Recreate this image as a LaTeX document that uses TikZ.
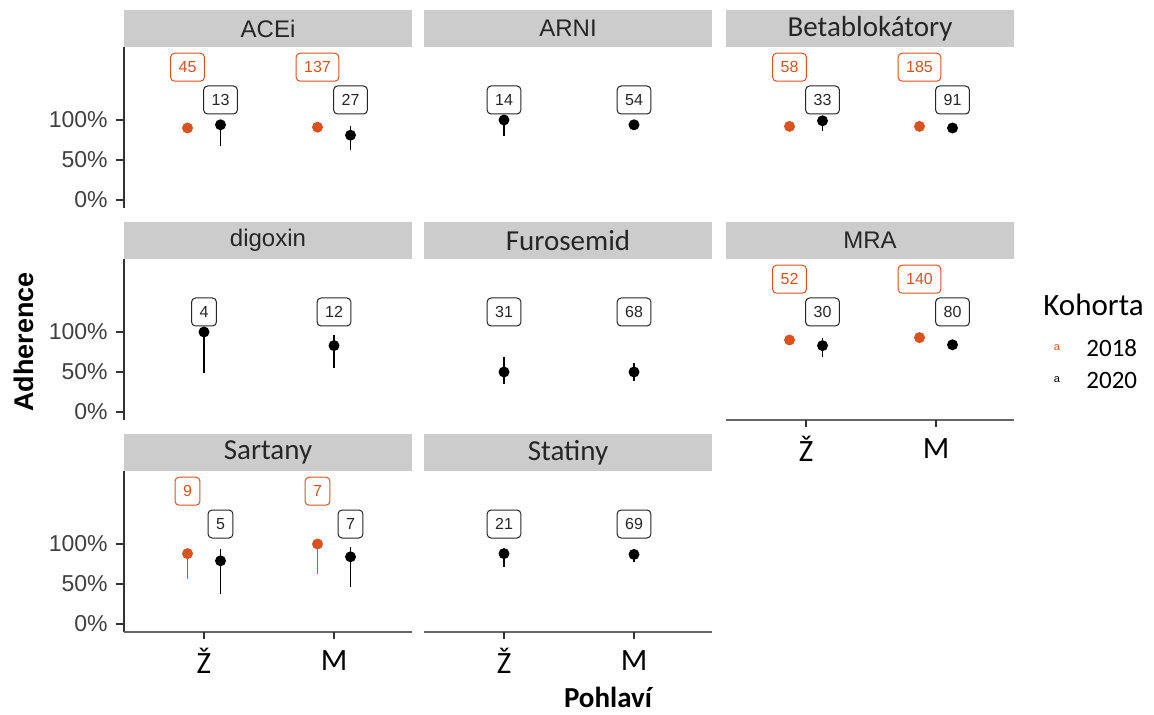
\documentclass[tikz,border=0pt]{standalone}
\usepackage{fontspec}
\setmainfont{Liberation Sans}
\newfontfamily\calibri{Carlito}
\usetikzlibrary{positioning}
\definecolor{c2018}{HTML}{D9531E}
\definecolor{stripgray}{HTML}{CCCCCC}
\definecolor{axisgray}{HTML}{333333}
\newcommand\calstrip{\calibri\fontsize{14.5}{15}\selectfont}
\tikzset{every node/.style={inner sep=0pt},
  strip/.style={fill=stripgray},
  striptext/.style={font=\fontsize{12}{13}\selectfont,text=black!85},
  yaxis/.style={draw=axisgray,line width=.7pt},
  xaxis/.style={draw=black!60,line width=1.1pt},
  ticklab/.style={anchor=east,font=\fontsize{11.5}{12}\selectfont,text=black!75},
  catlab/.style={font=\calibri\fontsize{15.5}{16}\selectfont},
  nbox/.style={draw,fill=white,rounded corners=2pt,line width=.5pt,
    inner xsep=4pt,minimum height=14pt,font=\fontsize{8}{9}\selectfont},
  pt/.style={circle,inner sep=0pt,minimum size=5.5pt},
  bar/.style={line width=.8pt}}
% point with range: name, x, value, low, high, colour
\newcommand\pr[6]{\draw[bar,draw=#6] (#2,#4)--(#2,#5);
  \node[pt,fill=#6] (#1) at (#2,#3) {};}
% count label: name, x, y, text, colour
\newcommand\nlab[5]{\node[nbox,draw=#5,text=#5] (#1) at (#2,#3) {#4};}
\begin{document}
\begin{tikzpicture}[x=.5pt,y=-.5pt]
\useasboundingbox (0,0) rectangle (1154,715);
\foreach \L/\Z/\k/\ttl in {124/200/1/ACEi,424/200/2/ARNI,726/200/3/{\calstrip Betablokátory},
  124/412/4/digoxin,424/412/5/{\calstrip Furosemid},726/412/6/MRA,
  124/624/7/{\calstrip Sartany},424/624/8/{\calstrip Statiny}}{
\begin{scope}[shift={(\L,\Z)},yscale=-.8]
\fill[strip] (0,191.25) rectangle (288,237.5);
\node[striptext] (strip\k) at (144,214.4) {\ttl};
\ifnum\L=124
\draw[yaxis] (0,-10)--(0,191.25);
\foreach \v in {0,50,100}{\draw[yaxis] (-8,\v)--(0,\v);
  \node[ticklab] (t\k-\v) at (-16,\v) {\v\%};}
\fi
\ifnum\k>5
\draw[xaxis] (0,-10)--(288,-10);
\draw[yaxis] (80,-10)--(80,-18.75) (210,-10)--(210,-18.75);
\node[catlab] (z\k) at (80,-46) {Ž};
\node[catlab] (m\k) at (210,-46) {M};
\fi
\ifnum\k=1
\nlab{n1a}{63.5}{166}{45}{c2018}\nlab{n1b}{193.5}{166}{137}{c2018}
\nlab{n1c}{96.5}{125}{13}{black!85}\nlab{n1d}{226.5}{125}{27}{black!85}
\pr{p1a}{63.5}{90}{85}{93}{c2018}\pr{p1b}{193.5}{91}{88}{93}{c2018}
\pr{p1c}{96.5}{94}{67}{96}{black}\pr{p1d}{226.5}{81}{63}{92}{black}
\fi
\ifnum\k=2
\nlab{n2c}{80}{125}{14}{black!85}\nlab{n2d}{210}{125}{54}{black!85}
\pr{p2c}{80}{100}{80}{100}{black}\pr{p2d}{210}{94}{90}{97}{black}
\fi
\ifnum\k=3
\nlab{n3a}{63.5}{166}{58}{c2018}\nlab{n3b}{193.5}{166}{185}{c2018}
\nlab{n3c}{96.5}{125}{33}{black!85}\nlab{n3d}{226.5}{125}{91}{black!85}
\pr{p3a}{63.5}{92}{89}{95}{c2018}\pr{p3b}{193.5}{92}{90}{94}{c2018}
\pr{p3c}{96.5}{99}{86}{100}{black}\pr{p3d}{226.5}{90}{86}{94}{black}
\fi
\ifnum\k=4
\nlab{n4c}{80}{125}{4}{black!85}\nlab{n4d}{210}{125}{12}{black!85}
\pr{p4c}{80}{100}{49}{100}{black}\pr{p4d}{210}{83}{55}{96}{black}
\fi
\ifnum\k=5
\nlab{n5c}{80}{125}{31}{black!85}\nlab{n5d}{210}{125}{68}{black!85}
\pr{p5c}{80}{50}{35}{69}{black}\pr{p5d}{210}{50}{39}{61}{black}
\fi
\ifnum\k=6
\nlab{n6a}{63.5}{166}{52}{c2018}\nlab{n6b}{193.5}{166}{140}{c2018}
\nlab{n6c}{96.5}{125}{30}{black!85}\nlab{n6d}{226.5}{125}{80}{black!85}
\pr{p6a}{63.5}{90}{86}{94}{c2018}\pr{p6b}{193.5}{93}{90}{95}{c2018}
\pr{p6c}{96.5}{83}{69}{92}{black}\pr{p6d}{226.5}{84}{80}{88}{black}
\fi
\ifnum\k=7
\nlab{n7a}{63.5}{166}{9}{c2018}\nlab{n7b}{193.5}{166}{7}{c2018}
\nlab{n7c}{96.5}{125}{5}{black!85}\nlab{n7d}{226.5}{125}{7}{black!85}
\pr{p7a}{63.5}{88}{56}{94}{c2018}\pr{p7b}{193.5}{100}{63}{100}{c2018}
\pr{p7c}{96.5}{79}{37}{94}{black}\pr{p7d}{226.5}{84}{46}{96}{black}
\fi
\ifnum\k=8
\nlab{n8c}{80}{125}{21}{black!85}\nlab{n8d}{210}{125}{69}{black!85}
\pr{p8c}{80}{88}{71}{94}{black}\pr{p8d}{210}{87}{78}{91}{black}
\fi
\end{scope}}
% axis titles
\node[rotate=90,font=\bfseries\fontsize{13.5}{14}\selectfont] (ylab) at (24,342) {Adherence};
\node[anchor=base,font=\calibri\bfseries\fontsize{14.5}{15}\selectfont] (xlab) at (608,707) {Pohlaví};
% legend
\node[anchor=west,font=\calibri\fontsize{15.5}{16}\selectfont] (kohorta) at (1043,305) {Kohorta};
\node[font=\fontsize{5.5}{6}\selectfont,text=c2018] (k18) at (1057,348) {a};
\node[font=\fontsize{5.5}{6}\selectfont] (k20) at (1057,380) {a};
\node[anchor=west,font=\calibri\fontsize{12.5}{13}\selectfont] (l18) at (1086,348) {2018};
\node[anchor=west,font=\calibri\fontsize{12.5}{13}\selectfont] (l20) at (1086,380) {2020};
\end{tikzpicture}
\end{document}
